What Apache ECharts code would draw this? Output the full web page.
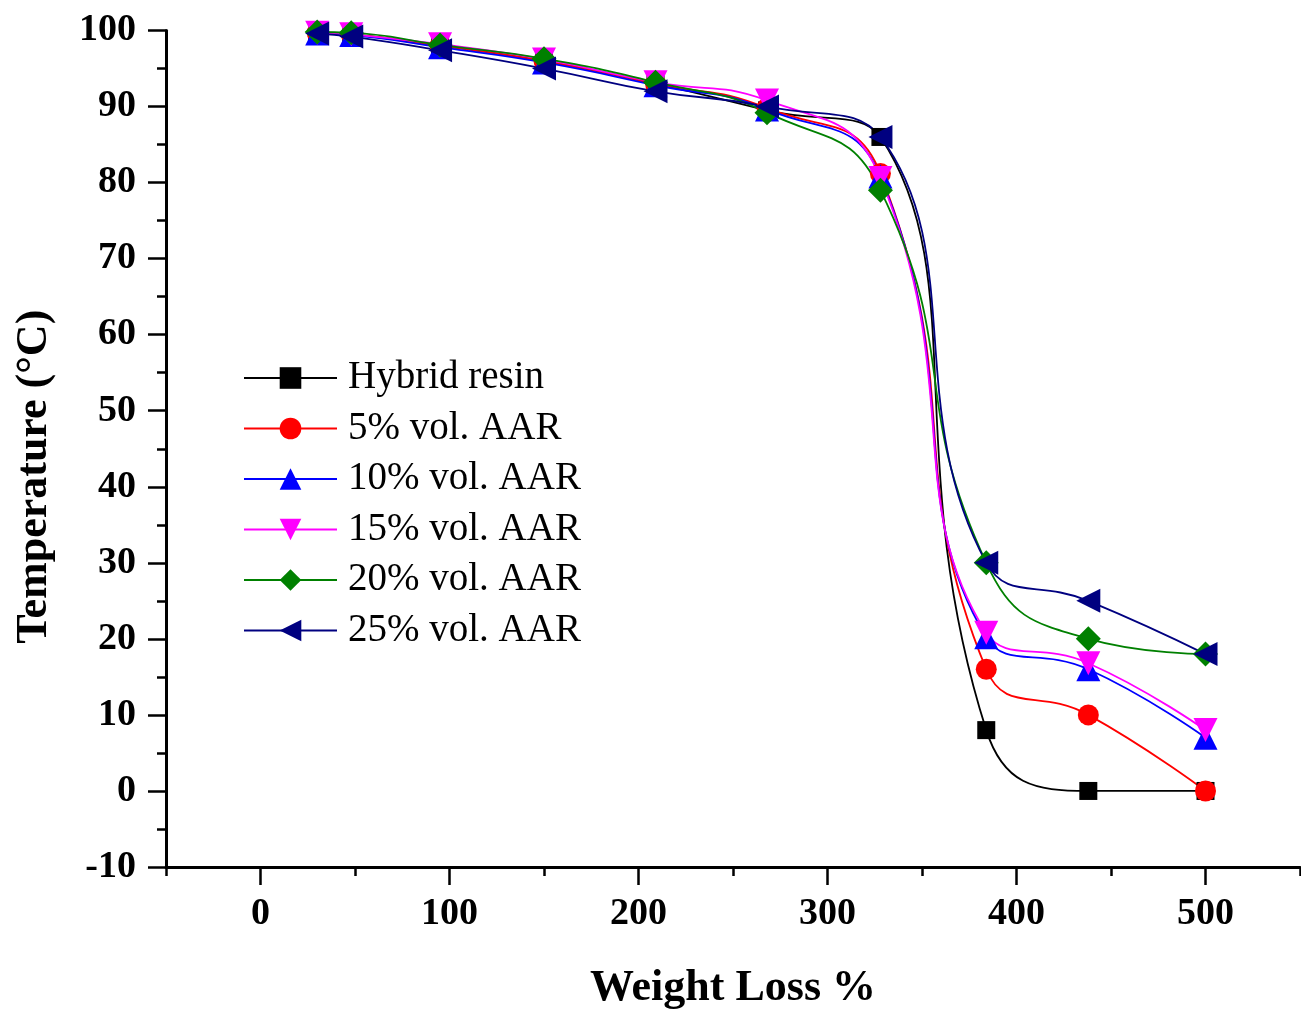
<!DOCTYPE html>
<html>
<head>
<meta charset="utf-8">
<script src="https://cdn.jsdelivr.net/npm/echarts@6/dist/echarts.min.js"></script>
<style>
html, body { margin: 0; padding: 0; background: #fff; }
#chart { width: 1301px; height: 1011px; }
</style>
</head>
<body>
<div id="chart"></div>
<script>
// values
const weightLoss = [30, 48, 95, 150, 209, 268, 328, 384, 438, 500];
const hybridResin = [99.7, 99.5, 98.0, 96.0, 93.0, 89.5, 86.0, 8.0, 0.0, 0.0];
const aar5 = [99.7, 99.5, 98.0, 96.0, 93.0, 89.8, 81.2, 16.0, 10.0, 0.0];
const aar10 = [99.6, 99.4, 97.8, 95.8, 92.8, 89.6, 80.8, 20.2, 16.0, 7.0];
const aar15 = [99.7, 99.5, 98.2, 96.2, 93.2, 90.8, 80.6, 20.8, 16.8, 8.0];
const aar20 = [99.8, 99.7, 98.1, 96.3, 93.2, 89.2, 79.0, 30.0, 20.0, 18.0];
const aar25 = [99.6, 99.2, 97.4, 95.0, 92.0, 90.0, 86.0, 30.0, 25.0, 18.0];
const xMajorTicks = [0, 100, 200, 300, 400, 500];

const font = 'Liberation Serif';

function pairs(ys) {
    return weightLoss.map((x, i) => [x, ys[i]]);
}

function makeSeries(name, ys, color, symbol, size, rotate) {
    return {
        name: name,
        type: 'line',
        data: pairs(ys),
        smooth: 0.5,
        symbol: symbol,
        symbolSize: size,
        symbolRotate: rotate || 0,
        showAllSymbol: true,
        clip: false,
        lineStyle: { color: color, width: 1.8 },
        itemStyle: { color: color },
        emphasis: { disabled: true }
    };
}

let mycharts = echarts.init(document.getElementById('chart'));
let option = {
    animation: false,
    backgroundColor: '#fff',
    grid: {
        left: 166,
        right: 1,
        top: 30.5,
        bottom: 144,
        containLabel: false,
        outerBoundsMode: 'none'
    },
    legend: {
        orient: 'vertical',
        left: 243,
        top: 358,
        padding: 0,
        itemWidth: 93,
        itemHeight: 27,
        itemGap: 10.5,
        textStyle: {
            fontFamily: font,
            fontSize: 39,
            color: '#000',
            lineHeight: 40,
            padding: [0, 0, 0, 6]
        },
        data: ['Hybrid resin', '5% vol. AAR', '10% vol. AAR', '15% vol. AAR', '20% vol. AAR', '25% vol. AAR']
    },
    xAxis: [
        {
            type: 'value',
            min: -50,
            max: 550,
            interval: 50,
            position: 'bottom',
            name: 'Weight Loss %',
            nameLocation: 'middle',
            nameGap: 100,
            nameTextStyle: { fontFamily: font, fontSize: 44, fontWeight: 'bold', color: '#000' },
            axisLine: { onZero: false, lineStyle: { color: '#000', width: 3 } },
            axisTick: { length: 9, lineStyle: { color: '#000', width: 2.5 } },
            axisLabel: { show: false },
            splitLine: { show: false }
        },
        {
            type: 'value',
            min: -50,
            max: 550,
            position: 'bottom',
            axisLine: { show: false, onZero: false },
            axisTick: { customValues: xMajorTicks, length: 18, lineStyle: { color: '#000', width: 2.5 } },
            axisLabel: {
                customValues: xMajorTicks,
                margin: 28,
                fontFamily: font,
                fontSize: 38,
                fontWeight: 'bold',
                color: '#000'
            },
            splitLine: { show: false }
        }
    ],
    yAxis: {
        type: 'value',
        min: -10,
        max: 100,
        interval: 10,
        name: 'Temperature (°C)',
        nameLocation: 'middle',
        nameGap: 109,
        nameTextStyle: {
            fontFamily: font,
            fontSize: 44,
            fontWeight: 'bold',
            color: '#000',
            padding: [0, 56, 0, 0]
        },
        axisLine: { show: true, onZero: false, lineStyle: { color: '#000', width: 3 } },
        axisTick: { show: true, length: 18, lineStyle: { color: '#000', width: 2.5 } },
        minorTick: { show: true, splitNumber: 2, length: 9, lineStyle: { color: '#000', width: 2.5 } },
        axisLabel: {
            margin: 30,
            fontFamily: font,
            fontSize: 38,
            fontWeight: 'bold',
            color: '#000'
        },
        splitLine: { show: false },
        minorSplitLine: { show: false }
    },
    series: [
        makeSeries('Hybrid resin', hybridResin, '#000000', 'rect', 18),
        makeSeries('5% vol. AAR', aar5, '#ff0000', 'circle', 21),
        makeSeries('10% vol. AAR', aar10, '#0000ff', 'triangle', 24),
        makeSeries('15% vol. AAR', aar15, '#ff00ff', 'triangle', 24, 180),
        makeSeries('20% vol. AAR', aar20, '#008000', 'diamond', 25),
        makeSeries('25% vol. AAR', aar25, '#000080', 'triangle', 24, 90)
    ]
};
mycharts.setOption(option, true);
window.addEventListener('resize', () => mycharts.resize());
</script>
</body>
</html>
